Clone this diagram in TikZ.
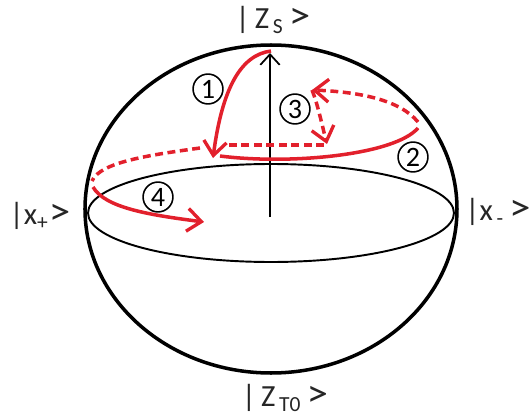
\documentclass[tikz,border=0pt]{standalone}
\usepackage{fontspec}
\usepackage{graphicx}
\setmainfont{Carlito}
\usetikzlibrary{arrows.meta}
\definecolor{pathred}{RGB}{226,32,44}
\newcommand{\ketend}{\scalebox{1.4}[1.25]{>}}
\begin{document}
\begin{tikzpicture}[x=0.02cm,y=-0.02cm,font=\fontsize{17.5}{20}\selectfont,
    >={Straight Barb[length=8pt,width=13pt,line width=1.9pt]},
    redline/.style={pathred,line width=2pt},
    reddash/.style={pathred,line width=2pt,dash pattern=on 4.5pt off 2.6pt},
    numcircle/.style={circle,draw=black,line width=0.9pt,minimum size=17pt,inner sep=0pt,font=\fontsize{16}{18}\selectfont},
    statelabel/.style={inner sep=0pt,text=black!85}]
  \useasboundingbox (0,0) rectangle (529,416);
  % sphere
  \draw[black,line width=2pt] (271,209) ellipse (186 and 164);
  \draw[black,line width=1.1pt] (271,213) ellipse (183 and 49);
  \coordinate (origin) at (270,217);
  \coordinate (north) at (270,53);
  \draw[->,black,line width=1pt,>={Straight Barb[length=6pt,width=11pt,line width=1pt]}] (origin) -- (north);
  % turning points of the path
  \coordinate (top) at (271,51);
  \coordinate (foot) at (213,158);
  \coordinate (footb) at (220,156);
  \coordinate (east) at (418,128);
  \coordinate (eastb) at (418,122);
  \coordinate (peak) at (312,90);
  \coordinate (drop) at (327,144);
  \coordinate (dropb) at (324,145);
  \coordinate (west) at (92,181);
  \coordinate (westb) at (93,187);
  \coordinate (inner) at (204,222);
  % red path
  \draw[->,redline] (top) .. controls (240,55) and (222,90) .. (foot);
  \draw[redline] (footb) .. controls (290,165) and (395,155) .. (east);
  \draw[->,reddash] (eastb) .. controls (400,100) and (360,92) .. (peak);
  \draw[->,reddash] (peak) .. controls (318,105) and (322,125) .. (drop);
  \draw[reddash] (dropb) -- (228,145);
  \draw[reddash] (200,148) .. controls (150,155) and (100,162) .. (west);
  \draw[->,redline] (westb) .. controls (105,208) and (150,215) .. (inner);
  % numbers
  \node[numcircle] (one) at (208,89) {1};
  \node[numcircle] (two) at (413,157) {2};
  \node[numcircle] (three) at (295,109) {3};
  \node[numcircle] (four) at (158,197) {4};
  % states
  \node[statelabel] (zs) at (273,20) {|\,Z\textsubscript{\,S}\,\ketend};
  \node[statelabel] (xplus) at (40,216) {|x\textsubscript{+}\ketend};
  \node[statelabel] (xminus) at (498,212) {|x\textsubscript{\,-}\,\ketend};
  \node[statelabel] (zto) at (285,398) {|\,Z\textsubscript{\,T0}\,\ketend};
\end{tikzpicture}
\end{document}
